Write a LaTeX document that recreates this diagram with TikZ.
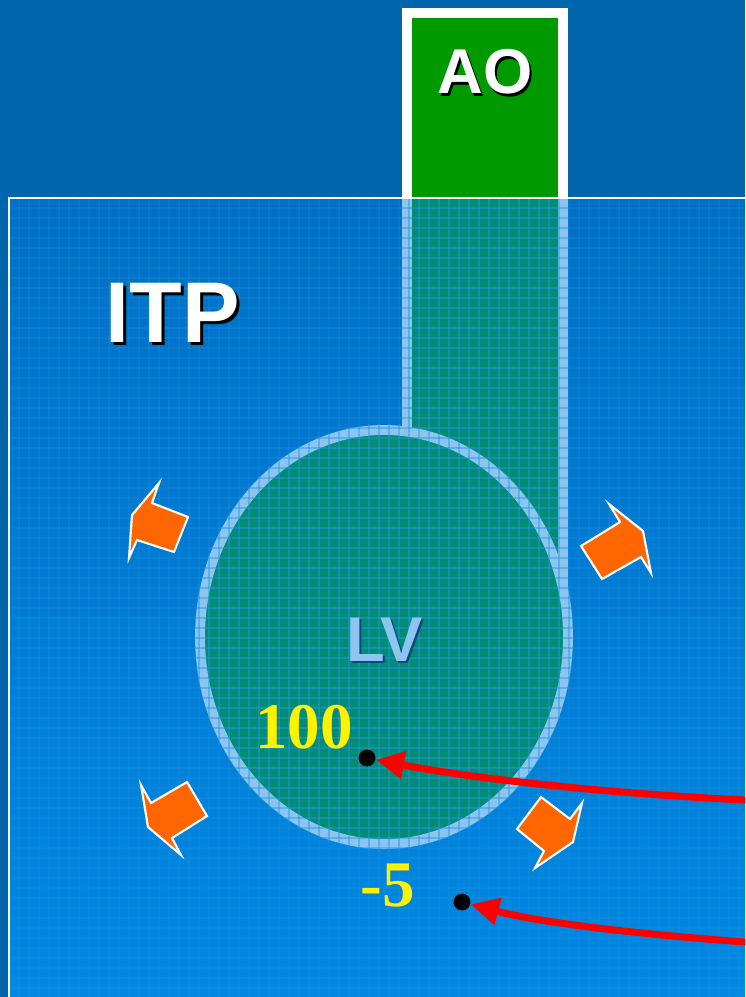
\documentclass[tikz,border=0pt]{standalone}
\usepackage{fontspec}
\setmainfont{Liberation Serif}
\setsansfont{Liberation Sans}
\usetikzlibrary{arrows.meta}
\definecolor{topblue}{RGB}{0,101,170}
\definecolor{itptop}{RGB}{0,112,198}
\definecolor{itpbot}{RGB}{0,136,226}
\definecolor{aogreen}{RGB}{0,153,0}
\definecolor{lvteal}{RGB}{0,140,118}
\definecolor{ringblue}{RGB}{140,198,240}
\definecolor{gridblue}{RGB}{40,150,225}
\definecolor{pushorange}{RGB}{255,102,0}
\definecolor{lvshadow}{RGB}{20,70,130}

\begin{document}
\begin{tikzpicture}[x=0.01cm,y=-0.01cm,
    push/.style={fill=pushorange,draw=white,line width=0.6pt,line join=miter},
    presdot/.style={circle,fill=black,inner sep=0pt,minimum size=4.8pt},
    probe/.style={red,line width=2pt,-{Triangle[length=8pt,width=7.5pt]}},
    gridline/.style={gridblue,line width=0.35pt},
    bigsans/.style={font=\sffamily\bfseries\fontsize{24.5}{28}\selectfont},
    midsans/.style={font=\sffamily\bfseries\fontsize{18}{20}\selectfont},
    numlabel/.style={text=yellow,font=\rmfamily\bfseries\fontsize{18.5}{20}\selectfont}]
    \useasboundingbox (0,0) rectangle (745,997);
    \fill[topblue] (0,0) rectangle (745,997);
    \shade[top color=itptop,bottom color=itpbot] (9,198) rectangle (745,997);
    % faint grid of the chest
    \foreach \g in {19,29,...,745} \draw[gridline,opacity=0.2] (\g,198) -- (\g,997);
    \foreach \g in {208,218,...,997} \draw[gridline,opacity=0.2] (9,\g) -- (745,\g);
    % aorta
    \fill[white] (402,8) rectangle (568,198);
    \fill[aogreen] (412,18) rectangle (558,198);
    \fill[ringblue] (402,198) rectangle (568,600);
    \fill[lvteal] (412,198) rectangle (558,600);
    % left ventricle
    \fill[lvteal] (384,637) ellipse [x radius=184, y radius=207];
    \draw[ringblue,line width=2.8pt] (384,637) ellipse [x radius=184, y radius=207];
    % grid seen through aorta and LV
    \begin{scope}
        \clip (402,198) rectangle (568,600);
        \begin{scope}[even odd rule]
            \clip (402,198) rectangle (568,600) (384,637) ellipse [x radius=190, y radius=213];
            \foreach \g in {409,419,...,568} \draw[gridline,opacity=0.45] (\g,198) -- (\g,600);
            \foreach \g in {208,218,...,600} \draw[gridline,opacity=0.45] (402,\g) -- (568,\g);
        \end{scope}
    \end{scope}
    \begin{scope}
        \clip (384,637) ellipse [x radius=190, y radius=213];
        \foreach \g in {189,199,...,579} \draw[gridline,opacity=0.45] (\g,424) -- (\g,850);
        \foreach \g in {428,438,...,850} \draw[gridline,opacity=0.45] (194,\g) -- (574,\g);
    \end{scope}
    \draw[white,line width=0.6pt] (745,198) -- (9,198) -- (9,997);
    % labels
    \node[bigsans,text=black] at (176,316) {ITP};
    \node[bigsans,text=white] (itp) at (173,313) {ITP};
    \node[midsans,text=black] at (487,75) {AO};
    \node[midsans,text=white] (ao) at (485,72) {AO};
    \node[midsans,text=lvshadow] at (387,642) {LV};
    \node[midsans,text=ringblue] (lv) at (385,640) {LV};
    \node[numlabel] (plv) at (304,727) {100};
    \node[numlabel] (pitp) at (388,886) {-5};
    % pushing arrows
    \draw[push] (159,483) -- (152,503) -- (188,517) -- (174,552) -- (137,540) -- (129,558) -- (132,515) -- cycle;
    \draw[push] (609,504) -- (643,531) -- (651,573) -- (641,557) -- (602,579) -- (581,546) -- (620,522) -- cycle;
    \draw[push] (141,785) -- (151,803) -- (187,782) -- (207,816) -- (172,838) -- (181,855) -- (148,827) -- cycle;
    \draw[push] (582,803) -- (573,842) -- (535,868) -- (544,851) -- (517,829) -- (541,797) -- (570,819) -- cycle;
    % pressure probes
    \node[presdot] (dotlv) at (367,758) {};
    \node[presdot] (dotitp) at (462,902) {};
    \coordinate (inlv) at (745,800);
    \coordinate (initp) at (745,942);
    \draw[probe] (inlv) .. controls (600,793) and (470,778) .. (dotlv);
    \draw[probe] (initp) .. controls (610,932) and (530,920) .. (dotitp);
\end{tikzpicture}
\end{document}
